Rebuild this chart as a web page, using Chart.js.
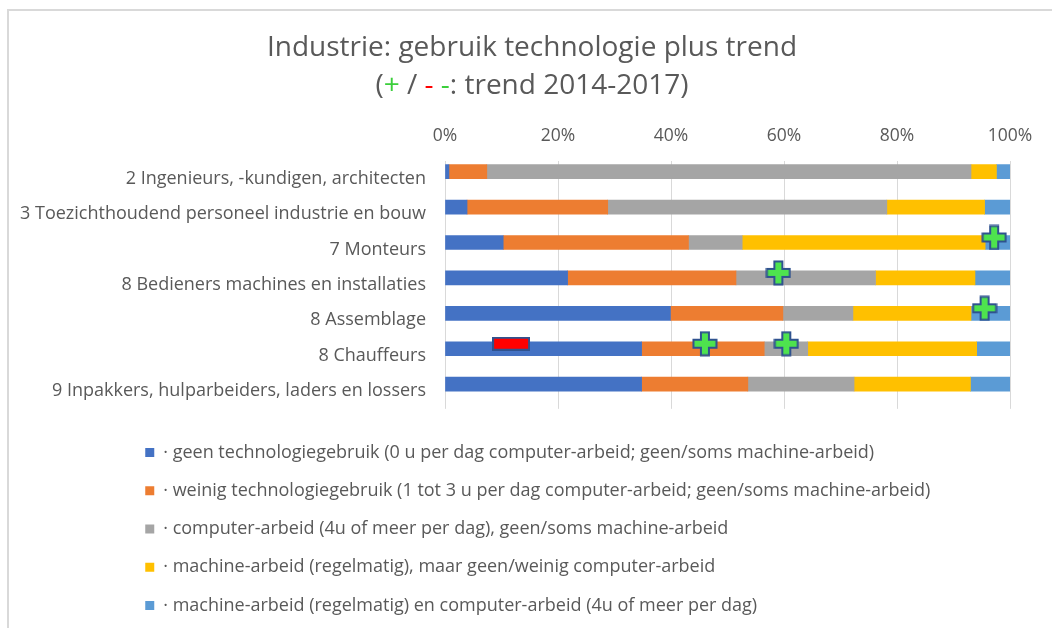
<!DOCTYPE html>
<html>
<head>
<meta charset="utf-8">
<title>Industrie: gebruik technologie plus trend</title>
<script src="https://cdn.jsdelivr.net/npm/chart.js@4.4.0/dist/chart.umd.min.js"></script>
<style>
  html, body { margin: 0; padding: 0; background: #fff; overflow: hidden; }
  #wrap { position: relative; width: 1052px; height: 628px; overflow: hidden; }
  #frame { position: absolute; left: 7px; top: 9px; right: -10px; bottom: -10px;
           border-top: 2px solid #d9d9d9; border-left: 2px solid #d9d9d9; }
  canvas { position: absolute; left: 0; top: 0; }
</style>
</head>
<body>
<div id="wrap">
  <div id="frame"></div>
  <canvas id="myChart" width="1052" height="628"></canvas>
</div>
<script>
// beroepsgroepen (y-as)
const categories = [
  '2 Ingenieurs, -kundigen, architecten',
  '3 Toezichthoudend personeel industrie en bouw',
  '7 Monteurs',
  '8 Bedieners machines en installaties',
  '8 Assemblage',
  '8 Chauffeurs',
  '9 Inpakkers, hulparbeiders, laders en lossers'
];

// aandeel in % per categorie
const geenTech          = [0.7, 3.9, 10.3, 21.7, 39.9, 34.8, 34.8];
const weinigTech        = [6.7, 24.9, 32.8, 29.8, 19.9, 21.7, 18.8];
const computerArbeid    = [85.7, 49.4, 9.5, 24.7, 12.4, 7.7, 18.8];
const machineArbeid     = [4.5, 17.3, 43.0, 17.6, 20.9, 29.9, 20.6];
const machineEnComputer = [2.4, 4.5, 4.4, 6.2, 6.9, 5.9, 7.0];

const seriesLabels = [
  '\u00b7 geen technologiegebruik (0 u per dag computer-arbeid; geen/soms machine-arbeid)',
  '\u00b7 weinig technologiegebruik (1 tot 3 u per dag computer-arbeid; geen/soms machine-arbeid)',
  '\u00b7 computer-arbeid (4u of meer per dag), geen/soms machine-arbeid',
  '\u00b7 machine-arbeid (regelmatig), maar geen/weinig computer-arbeid',
  '\u00b7 machine-arbeid (regelmatig) en computer-arbeid (4u of meer per dag)'
];
const seriesColors = ['#4472C4', '#ED7D31', '#A5A5A5', '#FFC000', '#5B9BD5'];

// trend 2014-2017: rij-index + positie op de as (%)
const plusRows = [2, 3, 4, 5, 5];
const plusPos  = [97.2, 59.0, 95.5, 46.0, 60.4];
const minRows  = [5];
const minPos   = [11.7];

const xTicks = [0, 20, 40, 60, 80, 100];

const titleLine1 = 'Industrie: gebruik technologie plus trend';
const titleLine2 = [['(', '#595959'], ['+', '#3ccf3c'], [' / ', '#595959'], ['-', '#ff0000'],
                    [' ', '#595959'], ['-', '#3ccf3c'], [': trend 2014-2017)', '#595959']];

const textColor = '#595959';
const fontFamily = '"Open Sans", "Noto Sans", sans-serif';
const legendLeft = 125;

function plusIcon() {
  const c = document.createElement('canvas');
  c.width = 26; c.height = 26;
  const g = c.getContext('2d');
  const o = 13, a = 4, b = 11.5;
  g.beginPath();
  g.moveTo(o - a, o - b); g.lineTo(o + a, o - b); g.lineTo(o + a, o - a);
  g.lineTo(o + b, o - a); g.lineTo(o + b, o + a); g.lineTo(o + a, o + a);
  g.lineTo(o + a, o + b); g.lineTo(o - a, o + b); g.lineTo(o - a, o + a);
  g.lineTo(o - b, o + a); g.lineTo(o - b, o - a); g.lineTo(o - a, o - a);
  g.closePath();
  g.fillStyle = '#4ee34e';
  g.fill();
  g.lineWidth = 2;
  g.strokeStyle = '#2f528f';
  g.stroke();
  return c;
}

function minusIcon() {
  const c = document.createElement('canvas');
  c.width = 38; c.height = 14;
  const g = c.getContext('2d');
  g.fillStyle = '#ff0000';
  g.fillRect(1, 1, 36, 12);
  g.lineWidth = 2;
  g.strokeStyle = '#2f528f';
  g.strokeRect(1, 1, 36, 12);
  return c;
}

const lift = 0.34; // markers sit just above the bar

const titlePlugin = {
  id: 'trendTitle',
  afterLayout(chart) {
    // legend block starts further right than the y-axis labels
    if (chart.legend) chart.legend.left = legendLeft;
  },
  afterDraw(chart) {
    const ctx = chart.ctx;
    const cx = 532;
    ctx.save();
    ctx.font = '28px ' + fontFamily;
    ctx.textBaseline = 'middle';
    ctx.textAlign = 'center';
    ctx.fillStyle = textColor;
    ctx.fillText(titleLine1, cx, 48);
    const total = titleLine2.reduce((s, p) => s + ctx.measureText(p[0]).width, 0);
    let x = cx - total / 2;
    ctx.textAlign = 'left';
    titleLine2.forEach(p => {
      ctx.fillStyle = p[1];
      ctx.fillText(p[0], x, 86);
      x += ctx.measureText(p[0]).width;
    });
    ctx.restore();
  }
};

const barSets = [geenTech, weinigTech, computerArbeid, machineArbeid, machineEnComputer].map((vals, i) => ({
  label: seriesLabels[i],
  data: vals,
  backgroundColor: seriesColors[i],
  borderWidth: 0,
  barThickness: 14
}));

const ctx = document.getElementById('myChart').getContext('2d');
new Chart(ctx, {
  type: 'bar',
  data: {
    labels: categories,
    datasets: [
      ...barSets,
      {
        type: 'scatter',
        label: 'trend +',
        data: plusRows.map((r, i) => ({ x: plusPos[i], y: r - lift })),
        xAxisID: 'x2', yAxisID: 'y2',
        pointStyle: plusIcon(),
        pointRadius: 12,
        clip: false,
        order: -1
      },
      {
        type: 'scatter',
        label: 'trend -',
        data: minRows.map((r, i) => ({ x: minPos[i], y: r - lift })),
        xAxisID: 'x2', yAxisID: 'y2',
        pointStyle: minusIcon(),
        pointRadius: 12,
        clip: false,
        order: -1
      }
    ]
  },
  options: {
    responsive: false,
    animation: false,
    indexAxis: 'y',
    layout: { padding: { top: 112, left: 0, right: 42, bottom: 3.5 } },
    scales: {
      x: {
        position: 'top',
        stacked: true,
        min: 0,
        max: 100,
        afterBuildTicks: s => { s.ticks = xTicks.map(v => ({ value: v })); },
        ticks: {
          padding: 14,
          color: textColor,
          font: { family: fontFamily, size: 17.5 },
          callback: v => v + '%'
        },
        grid: { color: '#d9d9d9', drawTicks: false },
        border: { display: false }
      },
      y: {
        stacked: true,
        grid: { display: false, drawTicks: false },
        border: { display: false },
        ticks: {
          padding: 19,
          color: textColor,
          font: { family: fontFamily, size: 18 }
        },
        afterFit: s => { s.width = 445; }
      },
      x2: { type: 'linear', display: false, position: 'top', offset: false, min: 0, max: 100 },
      y2: { type: 'linear', display: false, offset: false, min: -0.5, max: 6.5, reverse: true }
    },
    plugins: {
      title: { display: false },
      tooltip: { enabled: false },
      legend: {
        position: 'bottom',
        align: 'start',
        title: { display: true, text: '', padding: 0, font: { size: 12 } },
        labels: {
          boxWidth: 9,
          boxHeight: 9,
          padding: 20.25,
          color: textColor,
          font: { family: fontFamily, size: 18 },
          filter: item => item.datasetIndex < seriesLabels.length
        }
      }
    }
  },
  plugins: [titlePlugin]
});
</script>
</body>
</html>
